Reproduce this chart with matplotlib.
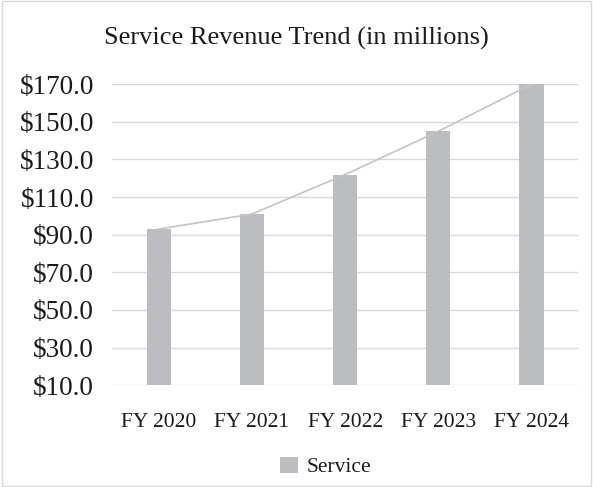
import matplotlib.pyplot as plt
from matplotlib.patches import Rectangle
import numpy as np

# data
years = ["FY 2020", "FY 2021", "FY 2022", "FY 2023", "FY 2024"]
service = [93, 101, 122, 145, 170]
yticks = [10, 30, 50, 70, 90, 110, 130, 150, 170]

plt.rcParams['font.family'] = ['Liberation Serif', 'DejaVu Serif']

fig = plt.figure(figsize=(5.93, 4.87), dpi=100)
ax = fig.add_axes([0.189, 0.209, 0.786, 0.618])

x = np.arange(len(years))
ax.bar(x, [v - 10 for v in service], bottom=10, width=0.26, color='#bcbdc0', zorder=3, label='Service')
ax.plot(x, service, color='#c4c4c4', linewidth=1.2, zorder=4)

ax.set_xlim(-0.5, len(years) - 0.5)
ax.set_ylim(10, 170)
ax.set_yticks(yticks)
ax.set_yticklabels(['$%.1f' % v for v in yticks], fontsize=19.5)
ax.set_xticks(x)
ax.set_xticklabels(years, fontsize=15.5)
ax.tick_params(axis='both', length=0, colors='#1a1a1a')
ax.tick_params(axis='x', pad=20)
ax.tick_params(axis='y', pad=13)
ax.grid(axis='y', color='#d9d9d9', linewidth=1, zorder=0)
for s in ax.spines.values():
    s.set_visible(False)

fig.text(0.5, 0.922, "Service Revenue Trend (in millions)", ha='center', va='center', fontsize=19, color='#1a1a1a')

leg = fig.legend(loc='center', bbox_to_anchor=(0.549, 0.041), frameon=False, fontsize=15.5,
                 handlelength=0.8, handleheight=0.8, handletextpad=0.4)
for t in leg.get_texts():
    t.set_color('#1a1a1a')

fig.patches.append(Rectangle((0.003, 0.003), 0.994, 0.994, transform=fig.transFigure,
                             fill=False, edgecolor='#d9d9d9', linewidth=1))

fig.savefig('out.png', dpi=100)
